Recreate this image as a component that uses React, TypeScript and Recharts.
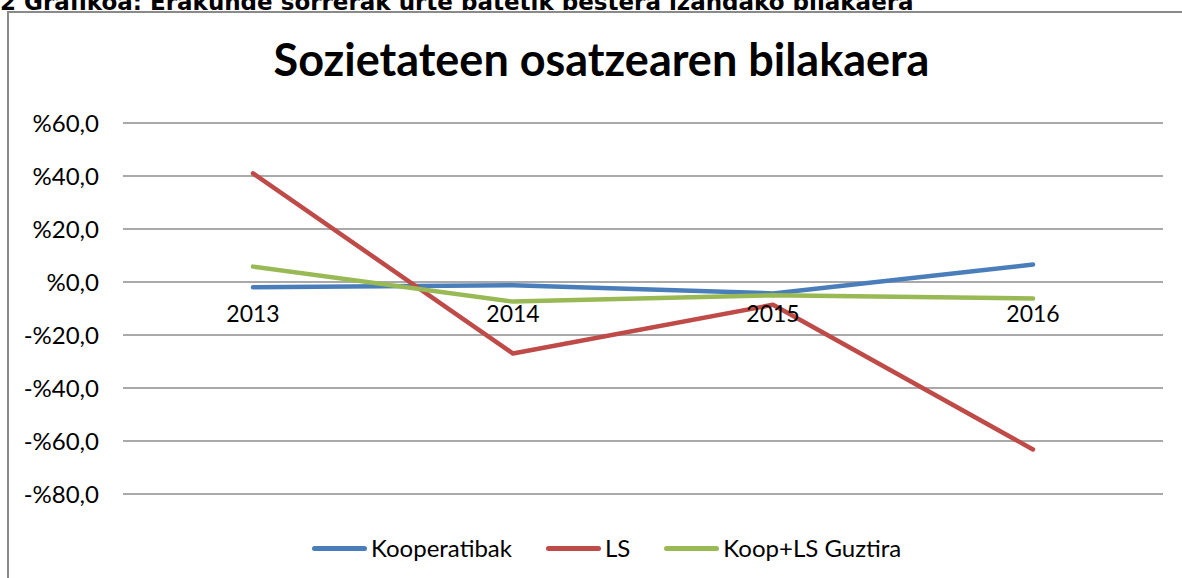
import {
  CartesianGrid,
  Legend,
  Line,
  LineChart,
  ReferenceDot,
  XAxis,
  YAxis,
} from 'recharts';

const years = ['2013', '2014', '2015', '2016'];
const kooperatibak = [-2.0, -1.2, -4.3, 6.6];
const ls = [41.0, -27.0, -8.6, -63.2];
const guztira = [5.8, -7.4, -5.0, -6.2];
const yTicks = [-80, -60, -40, -20, 0, 20, 40, 60];

const series = [
  { key: 'koop', name: 'Kooperatibak', color: '#4A7EBB' },
  { key: 'ls', name: 'LS', color: '#BE4B48' },
  { key: 'total', name: 'Koop+LS Guztira', color: '#98B954' },
];

const data = years.map((year, i) => ({
  year,
  koop: kooperatibak[i],
  ls: ls[i],
  total: guztira[i],
}));

const FONT = 'Lato, "Open Sans", sans-serif';

function formatPercent(v: number) {
  return (v < 0 ? '-' : '') + '%' + Math.abs(v).toFixed(1).replace('.', ',');
}

function LegendContent() {
  return (
    <div
      style={{
        display: 'flex',
        alignItems: 'center',
        paddingLeft: 312,
        fontFamily: FONT,
        fontSize: 24,
        lineHeight: '26px',
        color: '#000',
      }}
    >
      {series.map((s) => (
        <div key={s.key} style={{ display: 'flex', alignItems: 'center', marginRight: 34 }}>
          <span
            style={{
              display: 'inline-block',
              width: 55,
              height: 5,
              borderRadius: 3,
              background: s.color,
              marginRight: 4,
            }}
          />
          <span>{s.name}</span>
        </div>
      ))}
    </div>
  );
}

export default function App() {
  return (
    <div
      style={{
        position: 'absolute',
        left: 0,
        top: 0,
        width: 1182,
        height: 578,
        overflow: 'hidden',
        background: '#fff',
      }}
    >
      <div
        style={{
          position: 'absolute',
          left: 0,
          top: -9,
          whiteSpace: 'nowrap',
          fontFamily: '"DejaVu Sans", sans-serif',
          fontWeight: 'bold',
          fontSize: 23,
          lineHeight: '23px',
        }}
      >
        2 Grafikoa: Erakunde sorrerak urte batetik bestera izandako bilakaera
      </div>
      <div
        style={{
          position: 'absolute',
          left: 7,
          top: 11,
          width: 1300,
          height: 700,
          border: '2px solid #8a8a8a',
        }}
      />
      <div
        style={{
          position: 'absolute',
          left: 0,
          top: 37,
          width: 1203,
          textAlign: 'center',
          fontFamily: FONT,
          fontWeight: 'bold',
          fontSize: 45,
          lineHeight: '45px',
        }}
      >
        Sozietateen osatzearen bilakaera
      </div>
      <div style={{ position: 'absolute', left: 0, top: 0 }}>
        <LineChart
          width={1182}
          height={578}
          data={data}
          margin={{ top: 123, right: 19, left: 0, bottom: 84 }}
        >
          <CartesianGrid vertical={false} stroke="#8c8c8c" strokeWidth={1.5} />
          <XAxis dataKey="year" hide padding={{ left: 130, right: 130 }} />
          <YAxis
            domain={[-80, 60]}
            ticks={yTicks}
            width={123}
            tickFormatter={formatPercent}
            axisLine={false}
            tickLine={false}
            tickSize={0}
            tickMargin={24}
            tick={{ fill: '#000', fontSize: 24, fontFamily: FONT }}
            interval={0}
          />
          {series.map((s) => (
            <Line
              key={s.key}
              dataKey={s.key}
              name={s.name}
              stroke={s.color}
              strokeWidth={4.5}
              strokeLinecap="round"
              strokeLinejoin="round"
              dot={false}
              activeDot={false}
              type="linear"
              isAnimationActive={false}
            />
          ))}
          {years.map((year) => (
            <ReferenceDot
              key={year}
              x={year}
              y={0}
              r={0}
              fill="none"
              stroke="none"
              ifOverflow="visible"
              label={{
                value: year,
                position: 'bottom',
                offset: 24,
                fill: '#000',
                fontSize: 23,
                fontFamily: FONT,
              }}
            />
          ))}
          <Legend
            layout="horizontal"
            verticalAlign="middle"
            align="center"
            wrapperStyle={{ top: 535, left: 0, width: 1182 }}
            content={<LegendContent />}
          />
        </LineChart>
      </div>
    </div>
  );
}
